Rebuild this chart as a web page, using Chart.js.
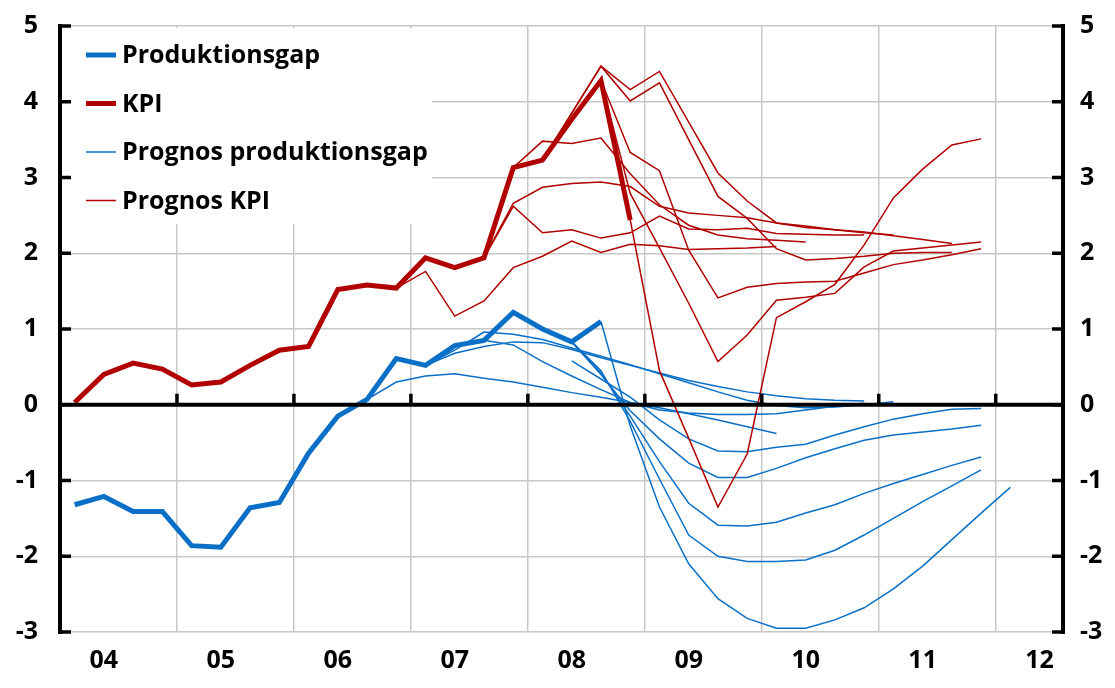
<!DOCTYPE html>
<html>
<head>
<meta charset="utf-8">
<script src="https://cdn.jsdelivr.net/npm/chart.js@4.4.0/dist/chart.umd.min.js"></script>
<style>
  html, body { margin: 0; padding: 0; background: #fff; }
  #wrap { width: 1115px; height: 688px; position: relative; }
</style>
</head>
<body>
<div id="wrap"><canvas id="chart"></canvas></div>
<script>
// x-axeln: kvartal från 2004 kv1, etikett per år
const yearLabels = ['04', '05', '06', '07', '08', '09', '10', '11', '12'];
const quarters = [];
yearLabels.forEach(y => { for (let q = 1; q <= 4; q++) quarters.push('20' + y + 'Q' + q); });

// utfall
const produktionsgap = [-1.32, -1.21, -1.41, -1.41, -1.86, -1.88, -1.36, -1.29, -0.64, -0.15,
    0.07, 0.61, 0.52, 0.78, 0.85, 1.22, 1.00, 0.83, 1.10];
const kpi = [0.03, 0.40, 0.55, 0.47, 0.26, 0.30, 0.52, 0.72, 0.77, 1.52,
    1.58, 1.54, 1.94, 1.81, 1.94, 3.13, 3.23, 3.77, 4.28, 2.44];

// prognoser produktionsgap (startkvartal + värden)
const progGapStart = ['2006Q3', '2007Q1', '2007Q1', '2007Q3', '2008Q2', '2008Q2', '2008Q2', '2008Q2', '2008Q3'];
const progGap = [
    [0.07, 0.30, 0.38, 0.41, 0.35, 0.30, 0.23, 0.16, 0.10, 0.03, -0.04, -0.12, -0.20, -0.29, -0.38],
    [0.52, 0.68, 0.77, 0.83, 0.82, 0.73, 0.62, 0.52, 0.42, 0.32, 0.24, 0.17, 0.12, 0.08, 0.06, 0.05],
    [0.52, 0.72, 0.96, 0.93, 0.86, 0.75, 0.64, 0.53, 0.41, 0.29, 0.17, 0.06, -0.01, -0.04, -0.03, 0.00, 0.04],
    [0.85, 0.79, 0.57, 0.38, 0.20, 0.03, -0.07, -0.11, -0.13, -0.13, -0.12, -0.07, -0.02, 0.02],
    [0.58, 0.34, 0.10, -0.20, -0.45, -0.61, -0.62, -0.56, -0.52, -0.40, -0.29, -0.19, -0.12, -0.06, -0.05],
    [0.83, 0.40, -0.08, -0.45, -0.77, -0.96, -0.96, -0.84, -0.70, -0.58, -0.47, -0.40, -0.36, -0.32, -0.27],
    [0.83, 0.42, -0.15, -0.75, -1.30, -1.59, -1.60, -1.55, -1.43, -1.32, -1.17, -1.04, -0.92, -0.80, -0.69],
    [0.83, 0.45, -0.22, -0.98, -1.72, -2.00, -2.07, -2.07, -2.05, -1.92, -1.72, -1.50, -1.28, -1.07, -0.86],
    [1.10, -0.28, -1.35, -2.10, -2.56, -2.82, -2.95, -2.95, -2.84, -2.68, -2.43, -2.13, -1.78, -1.43, -1.09]
];

// prognoser KPI (startkvartal + värden)
const progKpiStart = ['2006Q4', '2007Q3', '2007Q3', '2007Q4', '2008Q1', '2008Q1', '2008Q3', '2008Q3', '2008Q4'];
const progKpi = [
    [1.54, 1.76, 1.17, 1.37, 1.81, 1.96, 2.16, 2.01, 2.12, 2.10, 2.05, 2.06, 2.07, 2.09],
    [1.94, 2.62, 2.27, 2.31, 2.20, 2.27, 2.49, 2.32, 2.31, 2.33, 2.26, 2.25, 2.24, 2.24],
    [1.94, 2.66, 2.87, 2.92, 2.94, 2.88, 2.62, 2.53, 2.50, 2.47, 2.40, 2.36, 2.31, 2.27, 2.24],
    [3.13, 3.48, 3.45, 3.52, 3.05, 2.64, 2.37, 2.24, 2.19, 2.17, 2.15],
    [3.23, 3.85, 4.47, 4.16, 4.40, 3.73, 3.06, 2.69, 2.40, 2.34, 2.31, 2.28, 2.23, 2.18, 2.13],
    [3.23, 3.85, 4.47, 4.01, 4.25, 3.50, 2.75, 2.46, 2.06, 1.91, 1.93, 1.96, 2.00, 2.01, 2.01],
    [4.28, 3.33, 3.09, 2.04, 1.41, 1.55, 1.60, 1.62, 1.63, 1.74, 1.85, 1.91, 1.98, 2.06],
    [4.28, 2.79, 2.07, 1.34, 0.57, 0.92, 1.38, 1.42, 1.47, 1.82, 2.03, 2.07, 2.11, 2.15],
    [2.44, 0.45, -0.44, -1.35, -0.65, 1.15, 1.36, 1.59, 2.11, 2.73, 3.11, 3.43, 3.51]
];

const BLUE = '#0a6fc6';
const RED = '#b00000';
const GRID = '#c8c8c8';
const FONT = '"Open Sans", "DejaVu Sans", sans-serif';

// punkt i mitten av kvartalet
function toPoints(start, values) {
    const i0 = quarters.indexOf(start);
    return values.map((v, k) => ({ x: i0 + k + 0.5, y: v }));
}

const datasets = [];
datasets.push({ data: toPoints('2004Q1', kpi), borderColor: RED, borderWidth: 5 });
datasets.push({ data: toPoints('2004Q1', produktionsgap), borderColor: BLUE, borderWidth: 5 });
progKpi.forEach((vals, i) => {
    datasets.push({ data: toPoints(progKpiStart[i], vals), borderColor: RED, borderWidth: 1.5 });
});
progGap.forEach((vals, i) => {
    datasets.push({ data: toPoints(progGapStart[i], vals), borderColor: BLUE, borderWidth: 1.5 });
});

// x-ticks: årsgränser för rutnät, kv2 för årsetiketter
const xTicks = [];
for (let k = 0; k < yearLabels.length; k++) {
    xTicks.push(k * 4 + 1.5);
    if (k > 0) xTicks.push(k * 4);
}
xTicks.sort((a, b) => a - b);

const legendItems = [
    { text: 'Produktionsgap', color: BLUE, width: 5 },
    { text: 'KPI', color: RED, width: 5 },
    { text: 'Prognos produktionsgap', color: BLUE, width: 1.5 },
    { text: 'Prognos KPI', color: RED, width: 1.5 }
];

const overlay = {
    id: 'overlay',
    beforeDatasetsDraw(chart) {
        const { ctx, chartArea: a } = chart;
        ctx.save();
        ctx.fillStyle = '#fff';
        ctx.fillRect(a.left + 2, a.top + 2, 370, 196);
        ctx.restore();
    },
    afterDatasetsDraw(chart) {
        const { ctx, chartArea: a, scales } = chart;
        const y0 = scales.y.getPixelForValue(0);
        ctx.save();
        ctx.strokeStyle = '#000';
        ctx.lineCap = 'butt';
        ctx.lineWidth = 4;
        ctx.beginPath();
        ctx.moveTo(a.left, y0); ctx.lineTo(a.right, y0);
        ctx.moveTo(a.left, a.top - 2); ctx.lineTo(a.left, a.bottom + 2);
        ctx.moveTo(a.right, a.top - 2); ctx.lineTo(a.right, a.bottom + 2);
        ctx.stroke();
        ctx.lineWidth = 3.5;
        ctx.beginPath();
        for (let v = -3; v <= 5; v++) {
            const y = scales.y.getPixelForValue(v);
            ctx.moveTo(a.left, y); ctx.lineTo(a.left + 11, y);
            ctx.moveTo(a.right - 11, y); ctx.lineTo(a.right, y);
        }
        for (let k = 1; k < yearLabels.length; k++) {
            const x = scales.x.getPixelForValue(k * 4);
            ctx.moveTo(x, y0); ctx.lineTo(x, y0 - 11);
        }
        ctx.stroke();

        // teckenförklaring
        ctx.font = 'bold 25px ' + FONT;
        ctx.textBaseline = 'middle';
        ctx.fillStyle = '#000';
        legendItems.forEach((it, i) => {
            const y = a.top + 29 + i * 48.5;
            ctx.strokeStyle = it.color;
            ctx.lineWidth = it.width;
            ctx.beginPath();
            ctx.moveTo(86, y); ctx.lineTo(116, y);
            ctx.stroke();
            ctx.fillText(it.text, 122, y + 1);
        });
        ctx.restore();
    }
};

// y-axlarnas etiketter får sticka ut ovanför/under ritytan
const noVertPad = s => { s.paddingTop = 0; s.paddingBottom = 0; };

new Chart(document.getElementById('chart'), {
    type: 'line',
    data: { datasets: datasets },
    options: {
        responsive: true,
        maintainAspectRatio: false,
        animation: false,
        layout: { padding: { top: 26 } },
        elements: {
            point: { radius: 0 },
            line: { tension: 0, fill: false }
        },
        plugins: {
            legend: { display: false },
            tooltip: { enabled: false }
        },
        scales: {
            x: {
                type: 'linear',
                min: 0,
                max: 34.3,
                afterBuildTicks: s => { s.ticks = xTicks.map(v => ({ value: v })); },
                afterFit: s => { s.height = 56; },
                border: { display: false },
                grid: {
                    drawTicks: false,
                    lineWidth: 1.5,
                    color: c => (c.tick && c.tick.value % 4 === 0) ? GRID : 'rgba(0,0,0,0)'
                },
                ticks: {
                    autoSkip: false,
                    maxRotation: 0,
                    padding: 14,
                    color: '#000',
                    font: { family: FONT, size: 25, weight: 'bold' },
                    callback: v => ((v - 1.5) % 4 === 0) ? yearLabels[(v - 1.5) / 4] : ''
                }
            },
            y: {
                position: 'left',
                min: -3,
                max: 5,
                afterFit: s => { s.width = 60; noVertPad(s); },
                border: { display: false },
                grid: {
                    drawTicks: false,
                    lineWidth: 1.5,
                    color: c => (c.tick && c.tick.value === 0) ? 'rgba(0,0,0,0)' : GRID
                },
                ticks: {
                    stepSize: 1,
                    padding: 22,
                    color: '#000',
                    font: { family: FONT, size: 25, weight: 'bold' }
                }
            },
            y2: {
                position: 'right',
                min: -3,
                max: 5,
                afterFit: s => { s.width = 52; noVertPad(s); },
                border: { display: false },
                grid: { display: false, drawTicks: false },
                ticks: {
                    stepSize: 1,
                    padding: 17,
                    color: '#000',
                    font: { family: FONT, size: 25, weight: 'bold' }
                }
            }
        }
    },
    plugins: [overlay]
});
</script>
</body>
</html>
